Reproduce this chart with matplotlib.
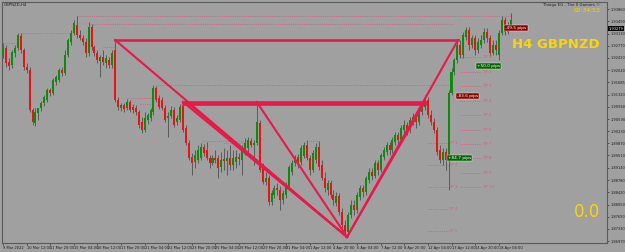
import matplotlib
matplotlib.use("Agg")
import matplotlib.pyplot as plt
from matplotlib.patches import Rectangle

# --- GBPNZD H4 candles ---
opens = [1.9249, 1.9270, 1.9229, 1.9220, 1.9255, 1.9270, 1.9306, 1.9264, 1.9214, 1.9205,
         1.9086, 1.9048, 1.9077, 1.9092, 1.9107, 1.9116, 1.9146, 1.9137, 1.9169, 1.9175,
         1.9205, 1.9196, 1.9249, 1.9288, 1.9315, 1.9339, 1.9309, 1.9300, 1.9288, 1.9255,
         1.9333, 1.9273, 1.9255, 1.9232, 1.9244, 1.9226, 1.9235, 1.9220, 1.9264, 1.9116,
         1.9092, 1.9101, 1.9092, 1.9110, 1.9095, 1.9092, 1.9080, 1.9050, 1.9027, 1.9056,
         1.9062, 1.9080, 1.9151, 1.9122, 1.9116, 1.9092, 1.9062, 1.9068, 1.9086, 1.9050,
         1.9056, 1.9098, 1.9033, 1.8988, 1.8947, 1.8932, 1.8938, 1.8944, 1.8976, 1.8967,
         1.8944, 1.8929, 1.8944, 1.8944, 1.8917, 1.8941, 1.8935, 1.8944, 1.8923, 1.8932,
         1.8947, 1.8938, 1.8961, 1.8973, 1.8994, 1.8982, 1.8988, 1.9048, 1.8917, 1.8872,
         1.8884, 1.8813, 1.8834, 1.8854, 1.8848, 1.8819, 1.8834, 1.8857, 1.8902, 1.8929,
         1.8947, 1.8932, 1.8950, 1.8982, 1.8944, 1.8908, 1.8938, 1.8976, 1.8923, 1.8884,
         1.8848, 1.8869, 1.8834, 1.8810, 1.8831, 1.8783, 1.8745, 1.8724, 1.8774, 1.8804,
         1.8789, 1.8828, 1.8854, 1.8843, 1.8878, 1.8902, 1.8890, 1.8929, 1.8908, 1.8947,
         1.8961, 1.8982, 1.8967, 1.8991, 1.9012, 1.8997, 1.9027, 1.9042, 1.9027, 1.9050,
         1.9065, 1.9050, 1.9080, 1.9095, 1.9116, 1.9071, 1.9050, 1.9027, 1.8967, 1.8938,
         1.8961, 1.8938, 1.9137, 1.9199, 1.9235, 1.9279, 1.9249, 1.9303, 1.9324, 1.9279,
         1.9300, 1.9264, 1.9279, 1.9294, 1.9318, 1.9300, 1.9255, 1.9279, 1.9250, 1.9315,
         1.9353, 1.9318, 1.9339]
highs = [1.9285, 1.9279, 1.9241, 1.9264, 1.9279, 1.9315, 1.9315, 1.9270, 1.9226, 1.9214,
         1.9092, 1.9092, 1.9086, 1.9113, 1.9131, 1.9151, 1.9151, 1.9181, 1.9190, 1.9211,
         1.9214, 1.9264, 1.9300, 1.9324, 1.9353, 1.9365, 1.9324, 1.9309, 1.9300, 1.9348,
         1.9342, 1.9279, 1.9264, 1.9249, 1.9264, 1.9249, 1.9244, 1.9264, 1.9291, 1.9125,
         1.9107, 1.9107, 1.9119, 1.9116, 1.9104, 1.9101, 1.9086, 1.9065, 1.9080, 1.9077,
         1.9092, 1.9160, 1.9157, 1.9131, 1.9125, 1.9101, 1.9080, 1.9098, 1.9095, 1.9071,
         1.9104, 1.9110, 1.9042, 1.8997, 1.8958, 1.8967, 1.8982, 1.8988, 1.8985, 1.8991,
         1.8952, 1.8952, 1.8967, 1.8952, 1.8961, 1.8973, 1.8967, 1.8982, 1.8967, 1.8967,
         1.8958, 1.8982, 1.9003, 1.9006, 1.9003, 1.8997, 1.9110, 1.9056, 1.8929, 1.8902,
         1.8893, 1.8848, 1.8863, 1.8869, 1.8860, 1.8848, 1.8872, 1.8923, 1.8938, 1.8952,
         1.8955, 1.8982, 1.8991, 1.8997, 1.8952, 1.8967, 1.8988, 1.8994, 1.8938, 1.8902,
         1.8878, 1.8878, 1.8848, 1.8843, 1.8840, 1.8795, 1.8759, 1.8783, 1.8819, 1.8819,
         1.8843, 1.8863, 1.8863, 1.8890, 1.8914, 1.8914, 1.8938, 1.8938, 1.8958, 1.8976,
         1.8991, 1.8991, 1.9006, 1.9021, 1.9021, 1.9042, 1.9056, 1.9050, 1.9065, 1.9077,
         1.9077, 1.9092, 1.9110, 1.9131, 1.9125, 1.9086, 1.9062, 1.9036, 1.8982, 1.8973,
         1.8973, 1.9146, 1.9211, 1.9241, 1.9294, 1.9294, 1.9318, 1.9333, 1.9333, 1.9309,
         1.9309, 1.9300, 1.9309, 1.9330, 1.9330, 1.9309, 1.9294, 1.9294, 1.9324, 1.9365,
         1.9362, 1.9348, 1.9374]
lows = [1.9241, 1.9214, 1.9205, 1.9211, 1.9244, 1.9264, 1.9255, 1.9205, 1.9196, 1.9080,
        1.9042, 1.9039, 1.9056, 1.9083, 1.9098, 1.9110, 1.9128, 1.9131, 1.9160, 1.9169,
        1.9187, 1.9190, 1.9244, 1.9279, 1.9309, 1.9300, 1.9294, 1.9279, 1.9244, 1.9247,
        1.9264, 1.9247, 1.9226, 1.9184, 1.9220, 1.9211, 1.9211, 1.9211, 1.9110, 1.9086,
        1.9083, 1.9080, 1.9086, 1.9080, 1.9077, 1.9071, 1.9033, 1.9018, 1.9021, 1.9045,
        1.9053, 1.9071, 1.9110, 1.9089, 1.9086, 1.9050, 1.9006, 1.9062, 1.9036, 1.9042,
        1.9050, 1.9021, 1.8982, 1.8938, 1.8893, 1.8914, 1.8929, 1.8938, 1.8950, 1.8938,
        1.8914, 1.8923, 1.8929, 1.8884, 1.8902, 1.8908, 1.8893, 1.8908, 1.8908, 1.8914,
        1.8923, 1.8893, 1.8952, 1.8961, 1.8976, 1.8923, 1.8982, 1.8902, 1.8866, 1.8863,
        1.8804, 1.8804, 1.8825, 1.8834, 1.8789, 1.8807, 1.8825, 1.8848, 1.8893, 1.8920,
        1.8914, 1.8923, 1.8944, 1.8938, 1.8893, 1.8902, 1.8929, 1.8908, 1.8878, 1.8843,
        1.8834, 1.8825, 1.8804, 1.8801, 1.8774, 1.8736, 1.8709, 1.8712, 1.8765, 1.8774,
        1.8780, 1.8819, 1.8828, 1.8834, 1.8869, 1.8878, 1.8884, 1.8893, 1.8902, 1.8938,
        1.8952, 1.8952, 1.8958, 1.8982, 1.8982, 1.8988, 1.9018, 1.9012, 1.9018, 1.9042,
        1.9033, 1.9042, 1.9071, 1.9086, 1.9062, 1.9042, 1.9018, 1.8952, 1.8929, 1.8923,
        1.8908, 1.8848, 1.9131, 1.9190, 1.9226, 1.9241, 1.9241, 1.9294, 1.9264, 1.9270,
        1.9249, 1.9255, 1.9270, 1.9285, 1.9288, 1.9247, 1.9250, 1.9250, 1.9235, 1.9309,
        1.9309, 1.9312, 1.9333]
closes = [1.9273, 1.9226, 1.9217, 1.9258, 1.9270, 1.9309, 1.9264, 1.9214, 1.9205, 1.9086,
          1.9050, 1.9080, 1.9092, 1.9107, 1.9125, 1.9146, 1.9137, 1.9175, 1.9184, 1.9205,
          1.9196, 1.9249, 1.9294, 1.9315, 1.9344, 1.9309, 1.9300, 1.9288, 1.9255, 1.9333,
          1.9273, 1.9255, 1.9235, 1.9244, 1.9229, 1.9241, 1.9220, 1.9255, 1.9116, 1.9095,
          1.9101, 1.9089, 1.9110, 1.9086, 1.9086, 1.9080, 1.9042, 1.9027, 1.9062, 1.9071,
          1.9086, 1.9151, 1.9116, 1.9095, 1.9092, 1.9056, 1.9068, 1.9086, 1.9042, 1.9062,
          1.9095, 1.9027, 1.8988, 1.8944, 1.8929, 1.8952, 1.8967, 1.8976, 1.8958, 1.8944,
          1.8929, 1.8944, 1.8938, 1.8914, 1.8938, 1.8935, 1.8944, 1.8923, 1.8944, 1.8947,
          1.8941, 1.8976, 1.8988, 1.8997, 1.8982, 1.8988, 1.9050, 1.8908, 1.8872, 1.8884,
          1.8813, 1.8840, 1.8854, 1.8848, 1.8819, 1.8840, 1.8863, 1.8917, 1.8929, 1.8944,
          1.8929, 1.8973, 1.8982, 1.8944, 1.8908, 1.8958, 1.8976, 1.8917, 1.8884, 1.8854,
          1.8869, 1.8834, 1.8819, 1.8831, 1.8783, 1.8745, 1.8724, 1.8774, 1.8804, 1.8789,
          1.8834, 1.8854, 1.8843, 1.8884, 1.8902, 1.8890, 1.8929, 1.8908, 1.8952, 1.8967,
          1.8982, 1.8967, 1.8997, 1.9012, 1.8997, 1.9033, 1.9042, 1.9027, 1.9056, 1.9065,
          1.9050, 1.9086, 1.9101, 1.9116, 1.9071, 1.9050, 1.9027, 1.8961, 1.8938, 1.8961,
          1.8938, 1.9137, 1.9199, 1.9235, 1.9279, 1.9249, 1.9309, 1.9324, 1.9279, 1.9300,
          1.9264, 1.9288, 1.9294, 1.9318, 1.9300, 1.9255, 1.9279, 1.9264, 1.9315, 1.9353,
          1.9318, 1.9339, 1.9353]

date_labels = ["9 Mar 2022", "10 Mar 12:00", "11 Mar 20:00", "15 Mar 04:00", "16 Mar 12:00",
               "17 Mar 20:00", "21 Mar 04:00", "22 Mar 12:00", "23 Mar 20:00", "25 Mar 04:00",
               "28 Mar 12:00", "29 Mar 20:00", "31 Mar 04:00", "1 Apr 12:00", "4 Apr 20:00",
               "6 Apr 04:00", "7 Apr 12:00", "8 Apr 20:00", "12 Apr 04:00", "13 Apr 12:00",
               "14 Apr 20:00", "18 Apr 04:00"]
price_ticks = [1.86970, 1.87330, 1.87690, 1.88050, 1.88420, 1.88780, 1.89140, 1.89510,
               1.89870, 1.90230, 1.90590, 1.90960, 1.91320, 1.91685, 1.92040, 1.92410,
               1.92770, 1.93130, 1.93490, 1.93860]
bid_price = 1.93279

# harmonic pattern points (bar index, price)
pA = (38, 1.9294)
pA_end = (154.2, 1.9294)
pB = (61, 1.9110)
pB_end = (143, 1.9110)
pC = (86, 1.9110)
pV = (116.6, 1.8709)

# dotted high / low markers: (from bar, to bar, price)
dotted_levels = [(25, 172, 1.9365), (29, 153, 1.9342), (6, 24, 1.9315), (0, 5, 1.9285),
                 (34, 38, 1.9273), (52, 151, 1.9160), (42, 51, 1.9122), (46, 51, 1.9104),
                 (68, 84, 1.8994), (75, 84, 1.8988), (103, 107, 1.8994), (93, 96, 1.8872)]

tp_right = [1.9244, 1.9199, 1.9157, 1.9113, 1.9071, 1.9027, 1.8985, 1.8944, 1.8899, 1.8857]
tp_left = [1.8988, 1.8923, 1.8857, 1.8792, 1.8727]

pip_boxes = [("-49.5 pips", 170.2, 1.9330, "#8b0000"),
             ("+50.0 pips", 160.7, 1.9217, "#006400"),
             ("-83.6 pips", 153.9, 1.9128, "#8b0000"),
             ("+84.7 pips", 150.8, 1.8944, "#006400")]

bg = "#a0a0a0"
pat = "#e8194a"
pink = "#e05a80"
yellow = "#ffd400"

fig = plt.figure(figsize=(6.25, 2.52), dpi=100)
fig.patch.set_facecolor(bg)
ax = fig.add_axes([2 / 625, 9 / 252, 605 / 625, 241 / 252])
ax.set_facecolor(bg)

# candles
for i in range(len(closes)):
    o, h, l, c = opens[i], highs[i], lows[i], closes[i]
    ax.vlines(i, l, h, color="#5a5a5a", lw=0.7, zorder=2)
    col = "#0c8c0c" if c >= o else "#e81414"
    bot = min(o, c)
    hgt = max(abs(c - o), 0.00012)
    ax.add_patch(Rectangle((i - 0.34, bot), 0.68, hgt, facecolor=col, edgecolor="none", zorder=3))

# dotted markers
for x0, x1, p in dotted_levels:
    ax.plot([x0, x1], [p, p], color=pink, lw=0.6, ls=(0, (1, 1.2)), zorder=1)

# pattern lines
ax.plot([pA[0], pA_end[0]], [pA[1], pA_end[1]], color=pat, lw=1.9, zorder=4)
ax.plot([pB[0], pB_end[0]], [pB[1], pB_end[1]], color=pat, lw=1.9, zorder=4)
ax.plot([pB[0], pB_end[0]], [pB[1] - 0.0006, pB_end[1] - 0.0006], color=pat, lw=1.9, zorder=4)
for p0 in (pA, pB, pC):
    ax.plot([p0[0], pV[0]], [p0[1], pV[1]], color=pat, lw=1.5, zorder=4)
ax.plot([pB[0] + 1, pV[0]], [pB[1], pV[1]], color=pat, lw=1.2, zorder=4)
ax.plot([pV[0], pA_end[0]], [pV[1], pA_end[1]], color=pat, lw=1.5, zorder=4)
ax.plot([pV[0], pB_end[0]], [pV[1], pB_end[1]], color=pat, lw=1.5, zorder=4)

# TP levels
for k, p in enumerate(tp_right):
    ax.plot([155, 162.5], [p, p], color=pink, lw=0.6, ls=(0, (1, 1.2)), zorder=1)
    ax.text(162.6, p, "TP %d" % (k + 1), color=pink, fontsize=2.8, va="center", ha="left")
for k, p in enumerate(tp_left):
    ax.plot([143.7, 151.2], [p, p], color=pink, lw=0.6, ls=(0, (1, 1.2)), zorder=1)
    ax.text(151.3, p, "TP %d" % (k + 1), color=pink, fontsize=2.8, va="center", ha="left")

for txt, bx, p, col in pip_boxes:
    ax.text(bx, p, txt, color="white", fontsize=3.1, va="center", ha="left", zorder=6,
            bbox=dict(boxstyle="square,pad=0.25", facecolor=col, edgecolor="#f0f0f0", lw=0.3))

ax.set_xlim(-0.34, 204.7)
ax.set_ylim(1.86911, 1.94069)

ax.yaxis.tick_right()
ax.set_yticks(price_ticks)
ax.set_yticklabels(["%.5f" % v for v in price_ticks])
ax.set_xticks(list(range(0, 8 * len(date_labels), 8)))
ax.set_xticklabels(date_labels, ha="left")
ax.tick_params(axis="both", labelsize=2.6, length=1.5, width=0.5, color="#303030",
               labelcolor="#1e1e1e", pad=0.8)
for s in ax.spines.values():
    s.set_color("#5a5a5a")
    s.set_linewidth(0.8)

# bid price marker on the axis
ax.text(1.002, bid_price, "%.5f" % bid_price, transform=ax.get_yaxis_transform(),
        fontsize=2.6, color="white", va="center", ha="left",
        bbox=dict(boxstyle="square,pad=0.12", facecolor="black", edgecolor="none"))

fig.text(4 / 625, 1 - 5 / 252, "GBPNZD,H4", fontsize=2.8, color="#1e1e1e", va="center")
fig.text(600 / 625, 1 - 5 / 252, "Thiago EG - The X Gamers \u00a9", fontsize=2.8,
         color="#1e1e1e", va="center", ha="right")
fig.text(600 / 625, 1 - 11 / 252, "02:34:53", fontsize=4.3, color=yellow, va="center", ha="right")
fig.text(600 / 625, 1 - 44 / 252, "H4 GBPNZD", fontsize=9.5, fontweight="bold", color=yellow,
         va="center", ha="right")
fig.text(600 / 625, 1 - 212 / 252, "0.0", fontsize=12, color=yellow, va="center", ha="right")

fig.savefig("out.png", dpi=100, facecolor=bg)
